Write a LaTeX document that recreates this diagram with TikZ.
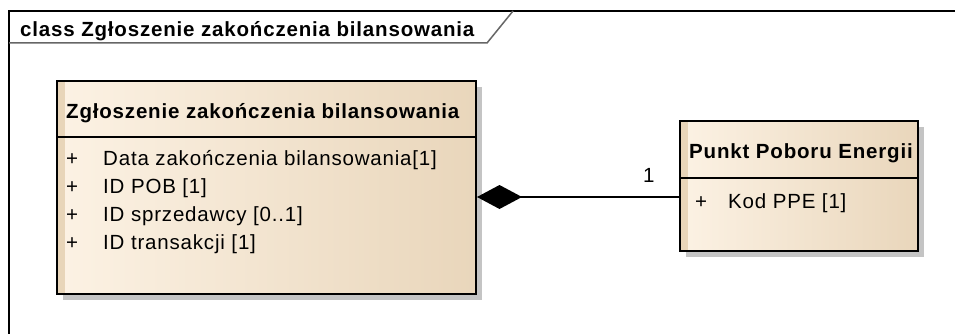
\documentclass[tikz,border=0pt]{standalone}
\usepackage{fontspec}
\setmainfont{Liberation Sans}[LetterSpace=4]
\usetikzlibrary{arrows.meta,shadows}

\definecolor{eaLight}{HTML}{FCF2E4}
\definecolor{eaDark}{HTML}{E9D6BB}
\definecolor{eaStrip}{HTML}{E8D5B9}
\definecolor{eaShadow}{HTML}{C4C4C4}

\begin{document}
\begin{tikzpicture}[
    x=1pt, y=-1pt,
    every node/.style={inner sep=0pt, font=\fontsize{20.5}{24}\selectfont},
    classbox/.style={rectangle, draw=black, line width=2pt, anchor=north west,
        left color=eaLight, right color=eaDark,
        general shadow={fill=eaShadow, shadow xshift=6pt, shadow yshift=-6pt},
        path picture={\fill[eaStrip] (path picture bounding box.north west)
            rectangle ([xshift=8pt]path picture bounding box.south west);}},
    title/.style={anchor=base west, font=\fontsize{20.5}{24}\selectfont\bfseries},
    attr/.style={anchor=base west},
    divider/.style={line width=2pt},
    frame/.style={line width=1.5pt, draw=black},
    tab/.style={line width=1.5pt, draw=black!60},
    composition/.style={line width=2pt, -{Diamond[length=45pt, width=24pt, fill=black]}}
]

\useasboundingbox (0,0) rectangle (955,334);

% Diagram frame
\draw[frame] (9,334) -- (9,11) -- (955,11);
\draw[tab] (9,43) -- (487,43) -- (513,11);
\node[title] (frametitle) at (20,37) {class Zgłoszenie zakończenia bilansowania};

% Classes
\node[classbox, minimum width=419pt, minimum height=213pt] (zgl) at (56,80) {};
\node[classbox, minimum width=238pt, minimum height=130pt] (ppe) at (679,120) {};

\draw[divider] ([yshift=-57pt]zgl.north west) -- ([yshift=-57pt]zgl.north east);
\draw[divider] ([yshift=-58pt]ppe.north west) -- ([yshift=-58pt]ppe.north east);

% Zgloszenie
\node[title] (zgltitle) at (66,118) {Zgłoszenie zakończenia bilansowania};
\node[attr] (p1) at (66,165) {+};
\node[attr] (a1) at (103,165) {Data zakończenia bilansowania[1]};
\node[attr] (p2) at (66,193) {+};
\node[attr] (a2) at (103,193) {ID POB [1]};
\node[attr] (p3) at (66,221) {+};
\node[attr] (a3) at (103,221) {ID sprzedawcy [0..1]};
\node[attr] (p4) at (66,249) {+};
\node[attr] (a4) at (103,249) {ID transakcji [1]};

% Punkt Poboru Energii
\node[title] (ppetitle) at (689,158) {Punkt Poboru Energii};
\node[attr] (p5) at (695,208) {+};
\node[attr] (a5) at (728,208) {Kod PPE [1]};

% Composition
\coordinate (link) at (600,197);
\draw[composition] (link -| ppe.west) -- (link -| zgl.east);
\node[attr] (mult) at (643,182) {1};

\end{tikzpicture}
\end{document}
